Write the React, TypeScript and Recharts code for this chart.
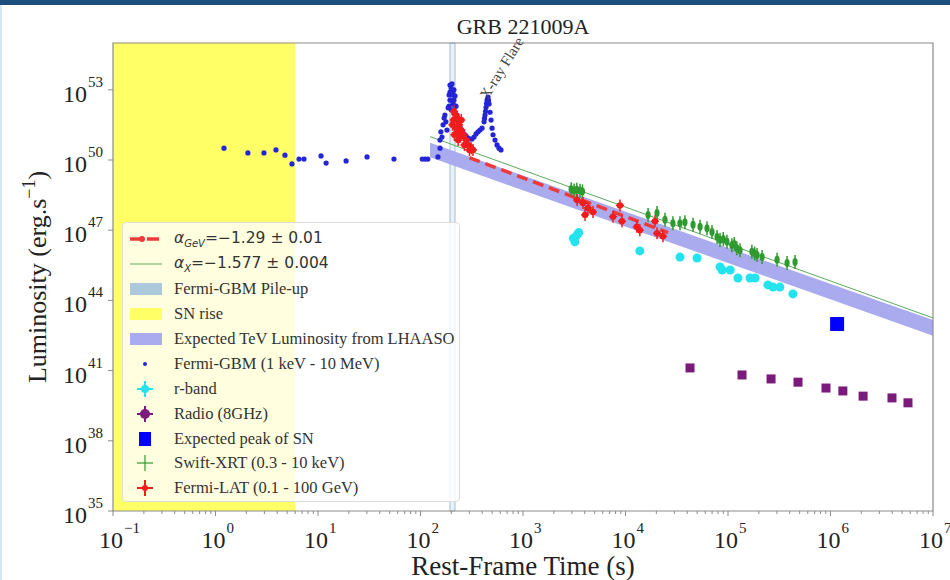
import React from "react";
import {
  ComposedChart,
  XAxis,
  YAxis,
  Scatter,
  Line,
  Area,
  ReferenceArea,
  ReferenceDot,
  Legend,
} from "recharts";

const SERIF = '"Liberation Serif", "Times New Roman", serif';
const MATH = '"DejaVu Sans", sans-serif';
const TEXT = "#222";
const FRAME = "#8c8c8c";

// axis ranges & labelled ticks
const timeDomain = [1e-1, 1e7];
const lumDomain = [1e35, 1e55];
const timeMajorTicks = [1e-1, 1e0, 1e1, 1e2, 1e3, 1e4, 1e5, 1e6, 1e7];
const lumTicks = [1e35, 1e38, 1e41, 1e44, 1e47, 1e50, 1e53];

// shaded intervals (rest-frame s)
const snRise = [1e-1, 6];
const gbmPileUp = [194, 217];

// [time (s), luminosity (erg/s)]
const gbmPoints: [number, number][] = [
  [1.21, 3.2e50], [2.07, 2.0e50], [2.97, 2.0e50], [3.89, 2.7e50], [4.76, 1.6e50],
  [5.57, 6.8e49], [6.53, 1.1e50], [7.3, 1.1e50], [10.7, 1.5e50], [12.0, 7.4e49],
  [18.8, 9.1e49], [30.1, 1.35e50], [55.1, 1.1e50], [104, 1.1e50], [111, 1.1e50],
  [118, 1.1e50], [148, 1.35e50], [155, 3.2e50], [155, 7.1e50], [158, 1.6e51],
  [162, 9.6e50], [166, 3.2e51], [170, 6.2e51], [173, 8.3e51], [177, 4.3e51],
  [181, 1.9e51], [186, 1.7e52], [190, 6.0e52], [190, 2.0e52], [194, 1.6e53],
  [194, 3.6e52], [194, 8.0e52], [199, 1.2e53], [199, 1.4e52], [203, 1.8e53],
  [203, 6.0e52], [207, 8.1e52], [207, 2.5e52], [212, 3.6e52], [212, 1.0e53],
  [217, 5.5e52], [217, 2.0e52], [222, 2.0e52], [227, 8.3e51], [232, 4.3e51],
  [243, 2.6e51], [254, 1.7e51], [266, 1.3e51], [278, 1.07e51], [291, 8.7e50],
  [304, 7.9e50], [318, 7.9e50], [333, 9.6e50], [348, 1.3e51], [364, 1.6e51],
  [380, 1.9e51], [398, 2.3e51], [417, 4.3e51], [421, 6.0e51], [426, 8.3e51],
  [431, 1.2e52], [436, 1.8e52], [441, 2.6e52], [446, 3.6e52], [451, 4.0e52],
  [456, 4.9e52], [461, 3.5e52], [466, 2.5e52], [477, 1.1e52], [488, 5.1e51],
  [499, 2.3e51], [510, 1.2e51], [533, 7.1e50], [558, 4.4e50], [583, 3.2e50],
  [610, 2.7e50],
];

const latPoints: [number, number][] = [
  [205, 3.2e51], [210, 5.1e51], [212, 1.2e52], [218, 9.0e51], [224, 2.3e51],
  [228, 1.5e51], [228, 6.3e51], [214, 1.2e51], [233, 7.1e50], [238, 3.2e51],
  [245, 1.0e51], [250, 1.9e51], [250, 5.1e51], [262, 1.2e51], [268, 4.4e50],
  [280, 7.1e50], [292, 4.4e50], [300, 2.7e50], [312, 3.2e50], [325, 2.7e50],
  [3370, 1.95e48], [3850, 1.45e48], [4030, 4.5e47], [4300, 8.9e47], [4820, 6.0e47],
  [7550, 3.8e47], [8830, 1.15e48], [9240, 2.4e47], [12900, 1.4e47], [13800, 1.0e47],
  [19400, 2.4e47], [20300, 7.4e46], [23200, 5.5e46],
];

const xrtPoints: [number, number][] = [
  [2950, 5.6e48], [3150, 5.0e48], [3350, 5.4e48], [3600, 4.8e48], [3800, 4.5e48],
  [16600, 4.5e47], [20300, 5.5e47], [24300, 2.8e47], [29000, 2.0e47], [34000, 2.0e47],
  [38000, 2.2e47], [45600, 1.7e47], [53400, 1.4e47], [62400, 1.2e47], [69800, 8.3e46],
  [78200, 5.1e46], [83600, 3.8e46], [90000, 4.2e46], [97700, 3.2e46], [109000, 2.3e46],
  [115000, 2.6e46], [122000, 1.7e46], [131000, 1.4e46], [171000, 1.2e46], [182000, 1.0e46],
  [192000, 8.7e45], [215000, 7.1e45], [301000, 5.4e45], [377000, 4.0e45], [451000, 4.4e45],
];

const rBandPoints: [number, number][] = [
  [3100, 4.5e46], [3210, 3.2e46], [3360, 6.2e46], [3500, 7.9e46], [13800, 1.3e46],
  [34000, 7.1e45], [49900, 6.5e45], [83600, 2.7e45], [87600, 2.0e45], [105000, 2.0e45],
  [125000, 9.1e44], [164000, 9.1e44], [184000, 9.1e44], [245000, 4.6e44], [275000, 3.7e44],
  [321000, 3.7e44], [430000, 1.9e44],
];

const radioPoints: [number, number][] = [
  [42600, 1.3e41], [137000, 6.5e40], [263000, 4.4e40], [482000, 3.2e40], [904000, 1.8e40],
  [1.32e6, 1.35e40], [2.08e6, 8.1e39], [3.98e6, 6.8e39], [5.7e6, 4.2e39],
];

const snPeakPoints: [number, number][] = [[1.16e6, 9.8e42]];

// power-law fits, end points
const gevFit: [number, number][] = [[300, 1.26e50], [26000, 7.9e46]];
const xrayFit: [number, number][] = [[124, 1.0e51], [1e7, 1.78e43]];
// expected TeV band: [time, low, high]
const lhaasoBand: [number, number, number][] = [
  [124, 1.3e50, 5.4e50],
  [1e7, 3.1e42, 1.45e43],
];

const toRows = (pts: [number, number][]) => pts.map(([t, L]) => ({ t, L }));

const C = {
  gbm: "#2424d8",
  lat: "#f21c1c",
  xrt: "#2f9a2f",
  rband: "#22e3ee",
  radio: "#7a1a7a",
  snPeak: "#0000ff",
  fitGev: "#ee3a3a",
  fitX: "#5cab5c",
  band: "#aaaaee",
  sn: "#ffff66",
  pileFill: "#c3dae8",
  pileStroke: "#9fc0d4",
};

const isMajor = (v: number) => Math.abs(Math.log10(v) - Math.round(Math.log10(v))) < 1e-9;
const expOf = (v: number) => {
  const e = Math.round(Math.log10(v));
  return e < 0 ? `\u2212${-e}` : `${e}`;
};

// decade ticks plus 2..9 minor ticks in between
const timeTicks: number[] = [];
timeMajorTicks.slice(0, -1).forEach((d) => {
  for (let m = 1; m < 10; m++) timeTicks.push(d * m);
});
timeTicks.push(timeMajorTicks[timeMajorTicks.length - 1]);

const TimeTick = (props: any) => {
  const { x, y, payload } = props;
  const v = payload.value;
  const major = isMajor(v);
  return (
    <g>
      <line x1={x} x2={x} y1={y} y2={y + (major ? 5 : 3)} stroke={FRAME} />
      {major && (
        <g fontFamily={SERIF} fill={TEXT}>
          <text x={x - 2} y={y + 37} fontSize={24} textAnchor="middle">10</text>
          <text x={x + 11} y={y + 22} fontSize={15}>{expOf(v)}</text>
        </g>
      )}
    </g>
  );
};

const LumTick = (props: any) => {
  const { x, y, payload } = props;
  return (
    <g fontFamily={SERIF} fill={TEXT}>
      <line x1={x - 5} x2={x} y1={y} y2={y} stroke={FRAME} />
      <text x={x - 26} y={y + 12} fontSize={24} textAnchor="end">10</text>
      <text x={x - 25} y={y - 3} fontSize={15}>{expOf(payload.value)}</text>
    </g>
  );
};

const dotShape = (r: number, color: string) => (p: any) =>
  <circle cx={p.cx} cy={p.cy} r={r} fill={color} />;

const squareShape = (s: number, color: string) => (p: any) =>
  <rect x={p.cx - s / 2} y={p.cy - s / 2} width={s} height={s} fill={color} />;

const xrtShape = (p: any) => (
  <g>
    <line x1={p.cx} x2={p.cx} y1={p.cy - 7} y2={p.cy + 7} stroke={C.xrt} strokeWidth={1.5} />
    <ellipse cx={p.cx} cy={p.cy} rx={2.6} ry={4} fill={C.xrt} />
  </g>
);

const latShape = (p: any) => (
  <g>
    <line x1={p.cx} x2={p.cx} y1={p.cy - 6} y2={p.cy + 6} stroke={C.lat} strokeWidth={1.5} />
    <line x1={p.cx - 4} x2={p.cx + 4} y1={p.cy} y2={p.cy} stroke={C.lat} strokeWidth={1.5} />
    <circle cx={p.cx} cy={p.cy} r={3.2} fill={C.lat} />
  </g>
);

const flareLabel = (p: any) => {
  const { x, y } = p.viewBox;
  return (
    <text
      x={x}
      y={y}
      transform={`rotate(-58 ${x} ${y})`}
      fontFamily={SERIF}
      fontSize={15}
      fill="#444"
    >
      X-ray Flare
    </text>
  );
};

const legendItems = [
  { key: "gev", math: true, label: <><i>α</i><sub style={{ fontSize: 10 }}><i>GeV</i></sub>=−1.29 ± 0.01</> },
  { key: "xfit", math: true, label: <><i>α</i><sub style={{ fontSize: 10 }}><i>X</i></sub>=−1.577 ± 0.004</> },
  { key: "pile", label: "Fermi-GBM Pile-up" },
  { key: "sn", label: "SN rise" },
  { key: "band", label: "Expected TeV Luminosity from LHAASO" },
  { key: "gbm", label: "Fermi-GBM (1 keV - 10 MeV)" },
  { key: "rband", label: "r-band" },
  { key: "radio", label: "Radio (8GHz)" },
  { key: "snpeak", label: "Expected peak of SN" },
  { key: "xrt", label: "Swift-XRT (0.3 - 10 keV)" },
  { key: "lat", label: "Fermi-LAT (0.1 - 100 GeV)" },
];

const LegendMarker = ({ kind }: { kind: string }) => {
  const cross = (color: string, w: number) => (
    <>
      <line x1={9} x2={25} y1={10} y2={10} stroke={color} strokeWidth={w} />
      <line x1={17} x2={17} y1={2} y2={18} stroke={color} strokeWidth={w} />
    </>
  );
  let body: React.ReactNode = null;
  switch (kind) {
    case "gev":
      body = (
        <>
          <line x1={2} x2={34} y1={10} y2={10} stroke={C.fitGev} strokeWidth={3.5} strokeDasharray="12 5" />
          <circle cx={14} cy={10} r={3} fill={C.fitGev} />
        </>
      );
      break;
    case "xfit":
      body = <line x1={2} x2={34} y1={10} y2={10} stroke={C.fitX} strokeWidth={1} />;
      break;
    case "pile":
      body = <rect x={2} y={4} width={32} height={12} fill="#abc9da" />;
      break;
    case "sn":
      body = <rect x={2} y={4} width={32} height={12} fill={C.sn} />;
      break;
    case "band":
      body = <rect x={2} y={4} width={32} height={12} fill={C.band} />;
      break;
    case "gbm":
      body = <circle cx={17} cy={10} r={2} fill={C.gbm} />;
      break;
    case "rband":
      body = <>{cross(C.rband, 2)}<circle cx={17} cy={10} r={4} fill={C.rband} /></>;
      break;
    case "radio":
      body = <>{cross(C.radio, 2)}<circle cx={17} cy={10} r={5} fill={C.radio} /></>;
      break;
    case "snpeak":
      body = <rect x={11} y={3} width={12} height={14} fill={C.snPeak} />;
      break;
    case "xrt":
      body = cross(C.xrt, 1.2);
      break;
    case "lat":
      body = <>{cross(C.lat, 2)}<circle cx={17} cy={10} r={3} fill={C.lat} /></>;
      break;
  }
  return (
    <svg width={36} height={20} style={{ display: "block" }}>
      {body}
    </svg>
  );
};

const LegendBox = () => (
  <div
    style={{
      width: 338,
      height: 280,
      boxSizing: "border-box",
      background: "rgba(255,255,255,0.8)",
      border: "1px solid #dcdcdc",
      borderRadius: 4,
      paddingTop: 4,
    }}
  >
    {legendItems.map((it) => (
      <div key={it.key} style={{ display: "flex", alignItems: "center", height: 24.9 }}>
        <div style={{ marginLeft: 5, width: 46 }}>
          <LegendMarker kind={it.key} />
        </div>
        <span
          style={{
            fontFamily: it.math ? MATH : SERIF,
            fontSize: it.math ? 15.5 : 16.5,
            color: "#333",
            whiteSpace: "nowrap",
          }}
        >
          {it.label}
        </span>
      </div>
    ))}
  </div>
);

export default function App() {
  return (
    <div
      style={{
        position: "absolute",
        left: 0,
        top: 0,
        width: 950,
        height: 580,
        background: "#fff",
        overflow: "hidden",
        fontFamily: SERIF,
      }}
    >
      <div style={{ position: "absolute", left: 0, top: 0, width: 950, height: 5, background: "#1d4d7c" }} />
      <div style={{ position: "absolute", left: 0, top: 5, width: 2, height: 575, background: "#d5e7f1" }} />
      <div
        style={{
          position: "absolute",
          left: 113,
          top: 14,
          width: 820,
          textAlign: "center",
          fontSize: 22,
          lineHeight: "25px",
          color: TEXT,
        }}
      >
        GRB 221009A
      </div>
      <ComposedChart
        width={950}
        height={580}
        margin={{ top: 43, right: 17, bottom: 29, left: 53 }}
      >
        <XAxis
          dataKey="t"
          type="number"
          scale="log"
          domain={timeDomain}
          allowDataOverflow
          ticks={timeTicks}
          interval={0}
          tick={(p: any) => <TimeTick {...p} />}
          tickLine={false}
          tickSize={0}
          tickMargin={0}
          axisLine={false}
          height={40}
          label={(p: any) => (
            <text
              x={p.viewBox.x + p.viewBox.width / 2}
              y={p.viewBox.y + 64}
              textAnchor="middle"
              fontFamily={SERIF}
              fontSize={27}
              fill={TEXT}
            >
              Rest-Frame Time (s)
            </text>
          )}
        />
        <YAxis
          dataKey="L"
          type="number"
          scale="log"
          domain={lumDomain}
          allowDataOverflow
          ticks={lumTicks}
          interval={0}
          tick={(p: any) => <LumTick {...p} />}
          tickLine={false}
          tickSize={0}
          tickMargin={0}
          axisLine={false}
          width={60}
          label={(p: any) => (
            <text
              transform={`translate(46 ${p.viewBox.y + p.viewBox.height / 2}) rotate(-90)`}
              textAnchor="middle"
              fontFamily={SERIF}
              fontSize={26}
              fill={TEXT}
            >
              Luminosity (erg.s
              <tspan dy={-11} fontSize={18}>−1</tspan>
              <tspan dy={11}>)</tspan>
            </text>
          )}
        />

        <ReferenceArea x1={snRise[0]} x2={snRise[1]} y1={lumDomain[0]} y2={lumDomain[1]} fill={C.sn} fillOpacity={1} stroke="none" />
        <ReferenceArea
          x1={gbmPileUp[0]}
          x2={gbmPileUp[1]}
          y1={lumDomain[0]}
          y2={lumDomain[1]}
          fill={C.pileFill}
          fillOpacity={0.35}
          stroke={C.pileStroke}
          strokeWidth={1}
        />

        <Area
          data={lhaasoBand.map(([t, lo, hi]) => ({ t, band: [lo, hi] }))}
          dataKey="band"
          type="linear"
          stroke="none"
          fill={C.band}
          fillOpacity={1}
          isAnimationActive={false}
          legendType="none"
        />
        <Line
          data={toRows(xrayFit)}
          dataKey="L"
          type="linear"
          stroke={C.fitX}
          strokeWidth={1}
          dot={false}
          isAnimationActive={false}
          legendType="none"
        />
        <Line
          data={toRows(gevFit)}
          dataKey="L"
          type="linear"
          stroke={C.fitGev}
          strokeWidth={3.5}
          strokeDasharray="11 6"
          dot={false}
          isAnimationActive={false}
          legendType="none"
        />

        <Scatter data={toRows(gbmPoints)} dataKey="L" shape={dotShape(2.6, C.gbm)} isAnimationActive={false} />
        <Scatter data={toRows(rBandPoints)} dataKey="L" shape={dotShape(4.5, C.rband)} isAnimationActive={false} />
        <Scatter data={toRows(radioPoints)} dataKey="L" shape={squareShape(9, C.radio)} isAnimationActive={false} />
        <Scatter data={toRows(snPeakPoints)} dataKey="L" shape={squareShape(14, C.snPeak)} isAnimationActive={false} />
        <Scatter data={toRows(xrtPoints)} dataKey="L" shape={xrtShape} isAnimationActive={false} />
        <Scatter data={toRows(latPoints)} dataKey="L" shape={latShape} isAnimationActive={false} />

        <ReferenceDot x={450} y={3.6e52} r={0} fill="none" stroke="none" label={flareLabel} />

        {/* plot frame */}
        <ReferenceArea
          x1={timeDomain[0]}
          x2={timeDomain[1]}
          y1={lumDomain[0]}
          y2={lumDomain[1]}
          fill="none"
          stroke={FRAME}
          strokeWidth={1.2}
        />

        <Legend
          layout="vertical"
          align="center"
          verticalAlign="middle"
          content={() => <LegendBox />}
          wrapperStyle={{ left: 122, top: 222, width: 338, height: 280 }}
        />
      </ComposedChart>
    </div>
  );
}
